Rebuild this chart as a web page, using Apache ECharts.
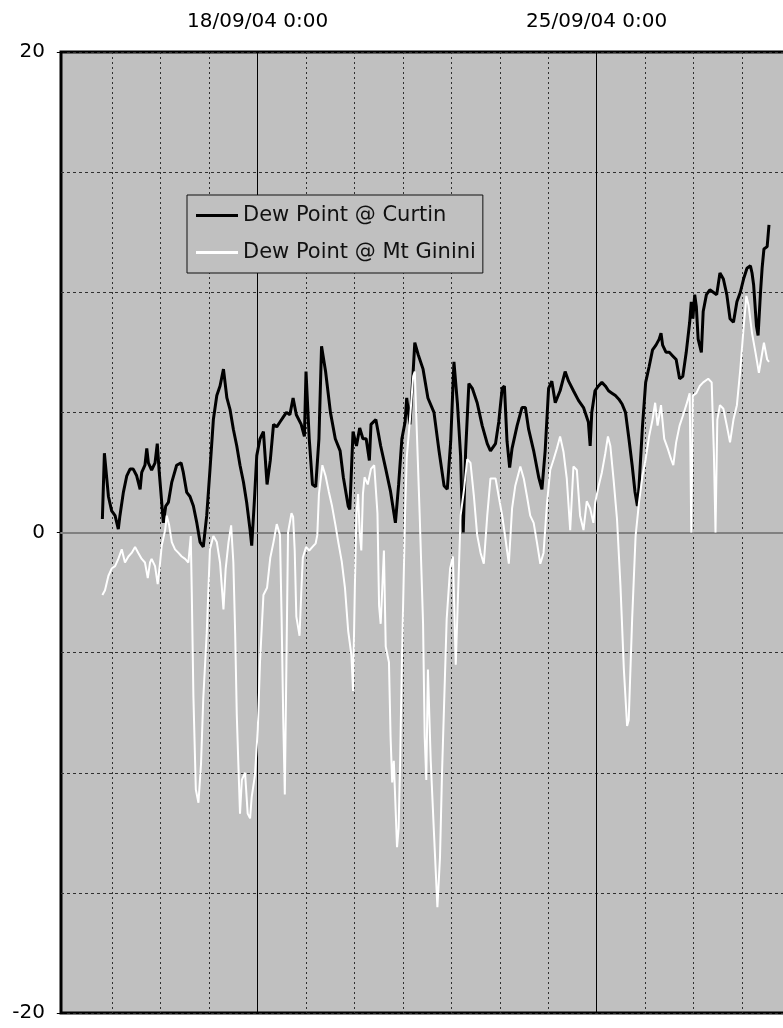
<!DOCTYPE html>
<html><head><meta charset="utf-8">
<script src="https://cdn.jsdelivr.net/npm/echarts@6/dist/echarts.min.js"></script>
<style>html,body{margin:0;padding:0;background:#fff}#c{width:783px;height:1028px}</style>
</head><body><div id="c"></div>
<script>
// x values: hours after 14/09/04 0:00
const curtinHours = [19.1,20.1,22.1,23.7,25.4,27.0,27.8,29.5,31.2,32.8,34.4,36.1,37.8,38.6,40.2,41.1,41.9,43.5,45.2,46.3,47.2,48.5,49.3,50.5,51.8,53.5,55.9,58.1,59.2,60.9,62.5,64.2,65.9,67.5,69.1,70.8,72.4,74.1,75.8,77.4,79.1,80.8,82.4,84.0,85.7,87.3,89.0,90.6,92.3,93.1,94.4,95.6,97.2,98.9,100.7,102.3,103.9,105.5,107.1,108.7,110.3,112.0,113.6,115.2,117.6,119.2,120.0,121.6,123.2,124.8,126.4,127.7,129.7,132.1,134.5,136.9,138.5,140.9,141.7,143.3,145.0,146.6,148.2,149.8,151.4,152.2,154.6,157.0,159.5,161.9,164.3,165.9,167.5,169.1,169.9,171.5,173.1,173.9,175.6,178.0,180.4,183.4,185.9,188.4,190.0,191.7,193.3,195.0,196.6,197.4,197.9,199.1,200.7,202.4,204.8,207.3,209.8,211.4,213.9,215.5,217.2,218.3,219.6,220.9,222.1,224.6,227.0,228.7,230.3,232.8,235.3,236.9,238.5,240.2,241.8,243.5,245.9,248.4,250.1,252.5,255.0,257.5,259.9,260.8,261.6,263.2,264.9,266.6,268.3,269.9,271.6,273.3,275.0,276.6,278.3,280.0,281.6,283.0,284.2,285.0,286.7,288.3,290.0,291.7,293.4,295.0,295.9,296.7,298.4,300.0,301.7,303.4,305.1,306.7,308.4,310.1,310.9,311.7,312.6,313.4,314.3,315.9,316.8,318.4,320.1,321.8,323.5,325.1,326.8,328.5,330.1,331.8,333.5,335.2,336.8,338.5,340.2,341.0,341.8,343.2,344.0,345.2,346.0,346.9,348.5,349.4];
const curtinValues = [0.56,3.3,1.5,0.9,0.7,0.14,0.7,1.67,2.36,2.64,2.64,2.36,1.8,2.5,2.8,3.5,2.9,2.6,2.9,3.7,2.6,1.25,0.4,1.1,1.25,2.1,2.8,2.9,2.5,1.67,1.5,1.1,0.4,-0.4,-0.6,0.7,2.6,4.7,5.7,6.1,6.8,5.6,5.1,4.3,3.6,2.8,2.1,1.25,0.1,-0.55,1.3,3.2,3.9,4.2,2.0,3.0,4.5,4.4,4.6,4.8,5.0,4.9,5.6,4.9,4.5,4.0,6.7,3.9,2.0,1.9,3.9,7.75,6.7,5.0,3.9,3.4,2.3,1.1,0.96,4.2,3.6,4.35,3.9,3.9,3.0,4.5,4.7,3.6,2.65,1.7,0.4,2.0,3.9,4.6,5.6,4.5,6.7,7.9,7.4,6.8,5.6,5.0,3.4,1.95,1.8,3.8,7.1,5.4,3.2,0.7,0.0,3.4,6.2,6.0,5.4,4.45,3.7,3.4,3.7,4.6,6.0,6.1,3.8,2.7,3.5,4.45,5.2,5.2,4.3,3.4,2.3,1.8,3.4,6.0,6.3,5.4,5.9,6.7,6.3,5.9,5.5,5.2,4.6,3.6,5.0,5.9,6.1,6.25,6.1,5.9,5.8,5.7,5.55,5.35,5.0,3.9,2.8,1.7,1.1,1.9,4.4,6.25,6.9,7.6,7.8,8.05,8.3,7.8,7.5,7.5,7.35,7.2,6.4,6.5,7.5,8.75,9.6,8.9,9.9,9.4,8.05,7.5,9.2,9.9,10.1,10.0,9.9,10.8,10.55,9.9,8.9,8.75,9.6,10.0,10.55,11.0,11.1,10.8,10.3,8.6,8.2,10.0,11.0,11.8,11.9,12.8];
const gininiHours = [19.1,20.4,22.1,23.7,25.4,27.0,28.7,30.3,32.0,33.6,35.3,36.9,38.6,40.2,41.6,42.7,43.5,45.2,46.5,47.7,48.5,50.2,51.0,52.2,53.5,55.1,56.8,58.4,60.1,61.7,62.9,63.4,64.2,65.4,66.7,68.0,69.1,70.8,72.4,74.1,75.8,77.4,79.1,80.2,81.6,82.9,84.0,84.9,85.7,86.5,87.3,88.2,89.8,91.1,92.3,93.1,94.7,96.1,97.2,98.9,100.7,102.3,103.9,105.5,107.1,107.9,108.7,109.5,110.3,111.1,112.8,113.6,114.4,115.2,116.8,117.6,118.4,120.0,121.6,123.2,124.8,125.6,126.4,128.1,129.7,131.3,132.9,134.5,136.1,137.7,139.3,140.9,142.5,143.3,144.2,145.0,145.8,146.6,147.4,148.2,149.0,150.6,152.2,153.8,155.4,156.2,157.0,157.8,158.6,159.5,161.1,161.9,162.7,163.5,165.1,165.9,166.7,167.5,168.3,169.1,169.9,171.5,173.1,173.9,174.7,176.3,178.0,178.8,179.6,180.4,181.8,183.4,185.1,186.4,187.4,189.7,191.4,192.8,194.2,195.4,196.6,198.3,199.9,201.5,203.2,204.8,206.5,208.1,209.8,211.4,213.9,215.5,217.2,218.8,220.5,222.1,223.7,226.2,227.9,229.5,231.1,232.8,234.4,236.1,237.7,239.4,241.0,242.7,244.3,245.9,247.6,249.2,250.9,252.5,254.2,255.8,257.5,259.1,260.8,262.4,263.3,264.9,266.6,268.3,269.6,270.8,272.4,274.1,275.8,277.5,279.1,279.9,281.6,283.3,285.0,286.7,288.3,290.0,291.7,293.0,294.2,295.9,297.5,299.2,300.9,302.0,303.4,305.1,306.7,308.4,310.1,310.9,311.7,313.4,315.1,316.8,319.3,321.0,322.1,322.9,323.8,325.1,326.8,328.5,330.1,331.8,333.5,335.2,336.8,338.2,339.3,341.0,342.7,344.4,345.5,346.9,348.5,349.4];
const gininiValues = [-2.6,-2.4,-1.8,-1.5,-1.4,-1.1,-0.7,-1.25,-1.0,-0.85,-0.6,-0.85,-1.1,-1.25,-1.9,-1.25,-1.1,-1.4,-2.15,-1.25,-0.55,0.1,0.7,0.3,-0.4,-0.7,-0.85,-1.0,-1.1,-1.25,-0.15,-2.5,-6.8,-10.7,-11.25,-9.6,-6.9,-4.2,-0.7,-0.15,-0.4,-1.25,-3.2,-1.5,-0.4,0.3,-1.25,-4.2,-7.6,-9.7,-11.7,-10.3,-10.0,-11.7,-11.9,-11.0,-10.1,-8.2,-5.4,-2.6,-2.3,-1.05,-0.4,0.35,-0.1,-3.5,-7.7,-10.9,-5.4,0.0,0.8,0.65,-0.75,-3.5,-4.3,-2.6,-1.05,-0.6,-0.75,-0.6,-0.45,-0.1,1.6,2.8,2.35,1.7,1.1,0.35,-0.45,-1.2,-2.3,-4.1,-5.1,-6.6,-2.3,0.8,1.6,0.0,-0.75,1.6,2.3,2.0,2.65,2.8,0.8,-3.05,-3.8,-2.3,-0.75,-4.75,-5.4,-8.5,-10.4,-9.5,-13.1,-12.3,-9.2,-5.4,-2.3,0.8,3.1,4.7,6.5,6.7,4.7,0.8,-3.8,-8.5,-10.3,-5.7,-9.5,-12.5,-15.6,-13.5,-10.0,-3.6,-1.5,-1.0,-5.5,-2.4,0.7,1.8,3.05,2.9,1.5,-0.1,-0.85,-1.3,0.7,2.25,2.25,1.5,0.7,-0.25,-1.3,1.0,1.95,2.75,2.25,1.5,0.7,0.4,-0.4,-1.3,-0.85,1.2,2.6,3.05,3.5,4.0,3.35,2.25,0.1,2.75,2.6,0.7,0.1,1.3,1.0,0.4,1.25,1.9,2.5,3.3,4.0,3.6,2.2,0.55,-2.2,-5.7,-8.05,-7.8,-3.6,-0.15,1.25,2.35,3.05,4.0,4.7,5.4,4.45,5.3,3.9,3.5,3.05,2.8,3.75,4.45,4.85,5.3,5.8,0.0,5.7,5.8,6.1,6.25,6.4,6.25,3.3,0.0,4.7,5.3,5.15,4.45,3.75,4.7,5.3,6.8,8.5,9.85,9.45,8.3,7.5,6.65,7.2,7.9,7.2,7.1];
const dayTickHours = [24,48,72,120,144,168,192,216,240,288,312,336];
const weekTickHours = [96,264];
const weekTickLabels = ['18/09/04 0:00','25/09/04 0:00'];
const yLabelValues = [-20,0,20];
const seriesNames = ['Dew Point @ Curtin','Dew Point @ Mt Ginini'];

const zip = (xs, ys) => xs.map((x, i) => [x, ys[i]]);
const font = 'DejaVu Sans';
const xMin = -1.4, xMax = 361.3;
const chart = echarts.init(document.getElementById('c'), null, {renderer: 'canvas'});
chart.setOption({
  animation: false,
  backgroundColor: '#ffffff',
  grid: {left: 61, width: 732, top: 52, bottom: 15, show: true, outerBoundsMode: 'none', containLabel: false,
         backgroundColor: '#c0c0c0', borderColor: '#000', borderWidth: 3},
  legend: {
    data: seriesNames, orient: 'vertical', left: 187, top: 195, icon: 'rect',
    padding: [10, 7, 10, 9], itemGap: 16, itemWidth: 42, itemHeight: 3,
    backgroundColor: '#c0c0c0', borderColor: '#111', borderWidth: 1,
    textStyle: {fontFamily: font, fontSize: 21, color: '#111', lineHeight: 20}
  },
  xAxis: [
    {type: 'value', position: 'bottom', min: xMin, max: xMax, z: 1,
     axisLine: {show: true, onZero: true, lineStyle: {color: '#808080', width: 2}},
     axisTick: {show: false, customValues: dayTickHours},
     axisLabel: {show: false},
     splitLine: {show: true, lineStyle: {color: '#303030', type: [2, 3], width: 1}}},
    {type: 'value', position: 'top', min: xMin, max: xMax, z: 1,
     axisLine: {show: false},
     axisTick: {show: true, customValues: weekTickHours, length: 6, lineStyle: {color: '#000'}},
     axisLabel: {show: true, customValues: weekTickHours,
       formatter: v => { const i = weekTickHours.indexOf(v); return i >= 0 ? weekTickLabels[i] : ''; },
       fontFamily: font, fontSize: 20, color: '#000', margin: 20},
     splitLine: {show: true, lineStyle: {color: '#000', width: 1}}}
  ],
  yAxis: [
    {type: 'value', position: 'left', min: -20, max: 20, interval: 5,
     axisLine: {show: false}, axisTick: {show: false}, axisLabel: {show: false},
     splitLine: {show: true, lineStyle: {color: '#303030', type: [3, 3], width: 1}}},
    {type: 'value', position: 'left', min: -20, max: 20,
     axisLine: {show: false},
     axisTick: {show: true, customValues: yLabelValues, length: 7, lineStyle: {color: '#000'}},
     axisLabel: {show: true, customValues: yLabelValues, fontFamily: font, fontSize: 20, color: '#000', margin: 16},
     splitLine: {show: false}}
  ],
  series: [
    {name: seriesNames[0], type: 'line', xAxisIndex: 0, yAxisIndex: 0, data: zip(curtinHours, curtinValues),
     symbol: 'none', lineStyle: {color: '#000', width: 3}, itemStyle: {color: '#000'}, z: 3},
    {name: seriesNames[1], type: 'line', xAxisIndex: 0, yAxisIndex: 0, data: zip(gininiHours, gininiValues),
     symbol: 'none', lineStyle: {color: '#fff', width: 2}, itemStyle: {color: '#fff'}, z: 4}
  ]
});
</script></body></html>
